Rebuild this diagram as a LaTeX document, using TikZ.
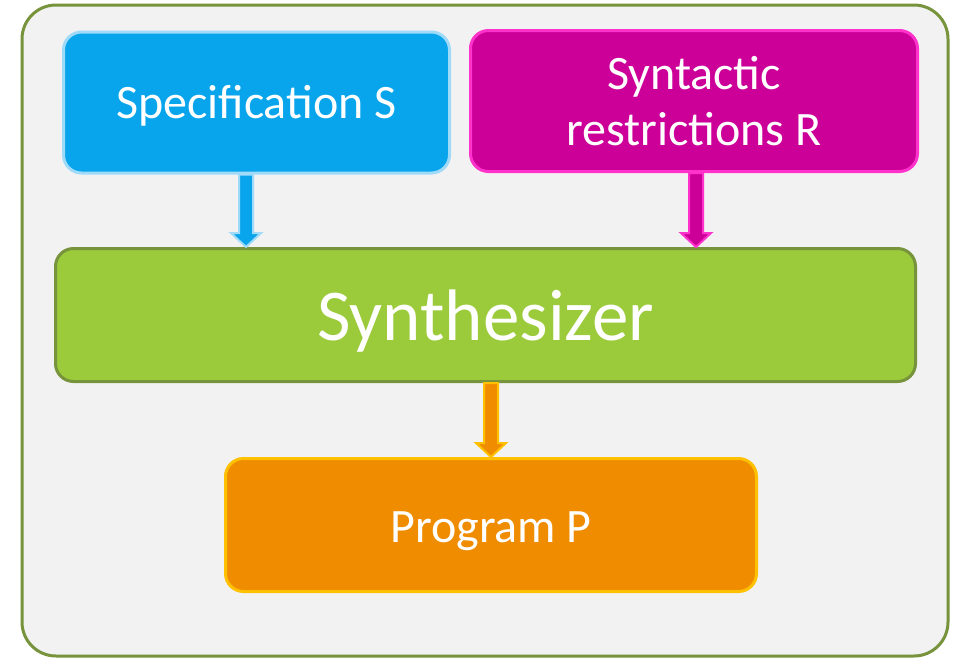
\documentclass[tikz,border=0pt]{standalone}
\usepackage{fontspec}
\setmainfont{Carlito}
\usetikzlibrary{calc}
\definecolor{bgc}{HTML}{F2F2F2}
\definecolor{outerc}{HTML}{77933C}
\definecolor{bluef}{HTML}{09A5EC}
\definecolor{blued}{HTML}{9FDBF8}
\definecolor{magf}{HTML}{CC0099}
\definecolor{magd}{HTML}{FF33CC}
\definecolor{greenf}{HTML}{9BCB3B}
\definecolor{greend}{HTML}{77933C}
\definecolor{orf}{HTML}{EF8C00}
\definecolor{ord}{HTML}{FFC000}
\newcommand\blockarr[4]{\draw[#1] let \p1=(#4,0 |- #2.south), \p2=(#4,0 |- #3.north) in
  (\x1-7pt,\y1) -- (\x1+7pt,\y1) -- (\x1+7pt,\y2+14pt) -- (\x1+15pt,\y2+14pt) -- (\x1,\y2)
  -- (\x1-15pt,\y2+14pt) -- (\x1-7pt,\y2+14pt) -- cycle;}
\begin{document}
\begin{tikzpicture}[x=1pt,y=-1pt,
  box/.style={rounded corners=18pt, line width=3pt, text=white, align=center, inner sep=0pt},
  arrS/.style={fill=bluef, draw=blued, line width=2pt, line join=miter},
  arrR/.style={fill=magf, draw=magd, line width=2pt, line join=miter},
  arrP/.style={fill=orf, draw=ord, line width=2pt, line join=miter}]
\useasboundingbox (0,0) rectangle (954,657);
\draw[fill=bgc, draw=outerc, line width=3pt, rounded corners=34pt] (22,5) rectangle (948,656);
\node[box, fill=bluef, draw=blued, minimum width=386pt, minimum height=141pt,
  font=\fontsize{48}{56}\selectfont] (spec) at (256.5,102.5) {\rule{0pt}{40pt}Specification S};
\node[box, fill=magf, draw=magd, minimum width=447pt, minimum height=141pt,
  font=\fontsize{48}{56}\selectfont] (restr) at (694,101) {Syntactic\\restrictions R};
\node[box, fill=greenf, draw=greend, minimum width=860pt, minimum height=133pt,
  font=\fontsize{73}{80}\selectfont] (synth) at (485.5,315) {\rule{0pt}{63pt}Synthesizer};
\node[box, fill=orf, draw=ord, minimum width=531pt, minimum height=133pt,
  font=\fontsize{48}{56}\selectfont] (prog) at (491,525) {\rule{0pt}{43pt}Program P};
\blockarr{arrS}{spec}{synth}{246}
\blockarr{arrR}{restr}{synth}{696}
\blockarr{arrP}{synth}{prog}{491}
\end{tikzpicture}
\end{document}
